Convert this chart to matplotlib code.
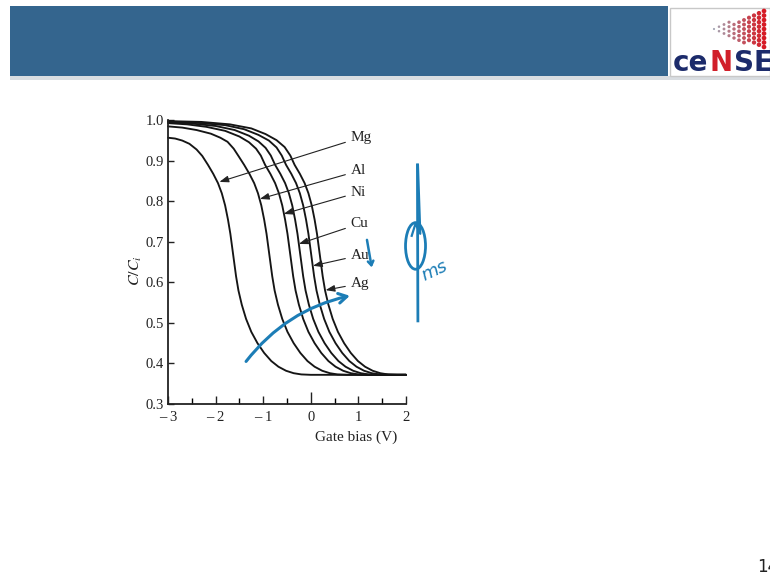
import matplotlib
matplotlib.use("Agg")
import matplotlib.pyplot as plt
from matplotlib.patches import Rectangle, Ellipse

plt.rcParams['font.family'] = ['Liberation Serif', 'DejaVu Serif']
plt.rcParams['mathtext.fontset'] = 'stix'

# ---------------- data ----------------
metals = ["Mg", "Al", "Ni", "Cu", "Au", "Ag"]

v_mg = [-3.0, -2.85, -2.7, -2.55, -2.4, -2.28, -2.16, -2.05, -1.95, -1.87, -1.80, -1.74, -1.69, -1.65, -1.61, -1.57, -1.52, -1.45, -1.36, -1.25, -1.12, -0.98, -0.83, -0.68, -0.52, -0.36, -0.2, 0.0, 2.0]
c_mg = [0.957, 0.955, 0.950, 0.942, 0.928, 0.912, 0.890, 0.868, 0.845, 0.820, 0.790, 0.755, 0.720, 0.685, 0.650, 0.615, 0.580, 0.545, 0.510, 0.478, 0.450, 0.426, 0.406, 0.392, 0.382, 0.376, 0.373, 0.372, 0.372]

v_al = [-3.0, -2.7, -2.4, -2.1, -1.9, -1.75, -1.62, -1.52, -1.40, -1.29, -1.19, -1.11, -1.04, -0.98, -0.93, -0.89, -0.85, -0.81, -0.76, -0.69, -0.60, -0.49, -0.36, -0.22, -0.07, 0.08, 0.24, 0.40, 0.56, 0.76, 2.0]
c_al = [0.985, 0.982, 0.976, 0.967, 0.957, 0.947, 0.930, 0.912, 0.890, 0.868, 0.845, 0.820, 0.790, 0.755, 0.720, 0.685, 0.650, 0.615, 0.580, 0.545, 0.510, 0.478, 0.450, 0.426, 0.406, 0.392, 0.382, 0.376, 0.373, 0.372, 0.372]

v_ni = [-3.0, -2.6, -2.2, -1.8, -1.5, -1.3, -1.15, -1.05, -0.96, -0.85, -0.75, -0.67, -0.60, -0.54, -0.49, -0.45, -0.41, -0.37, -0.32, -0.25, -0.16, -0.05, 0.08, 0.22, 0.37, 0.52, 0.68, 0.84, 1.0, 1.2, 2.0]
c_ni = [0.993, 0.990, 0.984, 0.974, 0.960, 0.946, 0.930, 0.913, 0.890, 0.868, 0.845, 0.820, 0.790, 0.755, 0.720, 0.685, 0.650, 0.615, 0.580, 0.545, 0.510, 0.478, 0.450, 0.426, 0.406, 0.392, 0.382, 0.376, 0.373, 0.372, 0.372]

v_cu = [-3.0, -2.5, -2.0, -1.6, -1.3, -1.1, -0.95, -0.84, -0.75, -0.64, -0.54, -0.46, -0.39, -0.33, -0.28, -0.24, -0.20, -0.16, -0.11, -0.04, 0.05, 0.16, 0.29, 0.43, 0.58, 0.73, 0.89, 1.05, 1.21, 1.41, 2.0]
c_cu = [0.995, 0.992, 0.986, 0.976, 0.962, 0.948, 0.932, 0.913, 0.890, 0.868, 0.845, 0.820, 0.790, 0.755, 0.720, 0.685, 0.650, 0.615, 0.580, 0.545, 0.510, 0.478, 0.450, 0.426, 0.406, 0.392, 0.382, 0.376, 0.373, 0.372, 0.372]

v_au = [-3.0, -2.4, -1.8, -1.4, -1.1, -0.88, -0.72, -0.61, -0.52, -0.41, -0.31, -0.23, -0.16, -0.10, -0.05, -0.01, 0.03, 0.07, 0.12, 0.19, 0.28, 0.39, 0.52, 0.66, 0.81, 0.96, 1.12, 1.28, 1.44, 1.64, 2.0]
c_au = [0.997, 0.994, 0.988, 0.978, 0.964, 0.950, 0.933, 0.913, 0.890, 0.868, 0.845, 0.820, 0.790, 0.755, 0.720, 0.685, 0.650, 0.615, 0.580, 0.545, 0.510, 0.478, 0.450, 0.426, 0.406, 0.392, 0.382, 0.376, 0.373, 0.372, 0.372]

v_ag = [-3.0, -2.3, -1.7, -1.25, -0.95, -0.72, -0.55, -0.43, -0.34, -0.23, -0.13, -0.05, 0.02, 0.08, 0.13, 0.17, 0.21, 0.25, 0.30, 0.37, 0.46, 0.57, 0.70, 0.84, 0.99, 1.14, 1.30, 1.46, 1.62, 1.82, 2.0]
c_ag = [0.998, 0.996, 0.990, 0.980, 0.966, 0.951, 0.934, 0.913, 0.890, 0.868, 0.845, 0.820, 0.790, 0.755, 0.720, 0.685, 0.650, 0.615, 0.580, 0.545, 0.510, 0.478, 0.450, 0.426, 0.406, 0.392, 0.382, 0.376, 0.373, 0.372, 0.372]

# label anchor (text position) and arrow tip on each curve
label_xy = [(0.84, 0.958), (0.84, 0.875), (0.84, 0.822), (0.84, 0.745), (0.84, 0.667), (0.84, 0.597)]
tip_xy = [(-1.92, 0.848), (-1.07, 0.806), (-0.57, 0.769), (-0.25, 0.695), (0.045, 0.641), (0.31, 0.581)]

x_ticks = [-3, -2, -1, 0, 1, 2]
x_ticklabels = ["\u2013 3", "\u2013 2", "\u2013 1", "0", "1", "2"]
y_ticks = [0.3, 0.4, 0.5, 0.6, 0.7, 0.8, 0.9, 1.0]
y_ticklabels = ["0.3", "0.4", "0.5", "0.6", "0.7", "0.8", "0.9", "1.0"]

curves = [(v_mg, c_mg), (v_al, c_al), (v_ni, c_ni), (v_cu, c_cu), (v_au, c_au), (v_ag, c_ag)]

# ---------------- figure ----------------
W, H = 770, 578
fig = plt.figure(figsize=(W / 100, H / 100), dpi=100)
fig.patch.set_facecolor("white")

def fx(px):
    return px / W

def fy(py):
    return 1 - py / H

# slide header
fig.patches.append(Rectangle((fx(10), fy(80)), fx(760), 4 / H, transform=fig.transFigure,
                             facecolor="#d9dde1", edgecolor="none"))
fig.patches.append(Rectangle((fx(10), fy(76)), fx(658), 70 / H, transform=fig.transFigure,
                             facecolor="#34658e", edgecolor="none"))
fig.patches.append(Rectangle((fx(670), fy(76)), fx(100), 68 / H, transform=fig.transFigure,
                             facecolor="white", edgecolor="#c8c8c8", linewidth=1))

# logo dots
dx, dy, cols, sizes = [], [], [], []
for i in range(11):
    x = 714 + i * 5
    for j in range(9):
        y = 11 + j * 4.5 + (2.2 if i % 2 else 0)
        w = (i + 1) / 11.0
        half = 3 + i * 1.6
        if abs(y - 30) > half or y > 50:
            continue
        dx.append(fx(x)); dy.append(fy(y))
        r = 0.62 + 0.22 * w
        g = 0.60 * (1 - w) + 0.10
        b = 0.62 * (1 - w) + 0.14
        cols.append((r, g, b)); sizes.append(1.5 + 10 * w)
dot_ax = fig.add_axes([0, 0, 1, 1], facecolor="none", zorder=5)
dot_ax.set_axis_off()
dot_ax.set_xlim(0, 1); dot_ax.set_ylim(0, 1)
dot_ax.scatter(dx, dy, s=sizes, c=cols, linewidths=0)

fig.text(fx(673), fy(71), "ce", fontsize=20, fontweight="bold", color="#1c2b6b",
         family="DejaVu Sans", ha="left", va="baseline", zorder=6)
fig.text(fx(710), fy(71), "N", fontsize=20, fontweight="bold", color="#d11f2a",
         family="DejaVu Sans", ha="left", va="baseline", zorder=6)
fig.text(fx(734), fy(71), "SE", fontsize=20, fontweight="bold", color="#1c2b6b",
         family="DejaVu Sans", ha="left", va="baseline", zorder=6)

fig.text(fx(757), fy(572), "14", fontsize=12, color="#222222", family="DejaVu Sans",
         ha="left", va="baseline")

# ---------------- chart ----------------
ax = fig.add_axes([fx(168), fy(404), 238 / W, (404 - 120.3) / H])
ax.set_facecolor("none")
for v, c in curves:
    ax.plot(v, c, color="#151515", linewidth=1.35, clip_on=False,
            solid_joinstyle="round", solid_capstyle="round")

ax.set_xlim(-3, 2)
ax.set_ylim(0.3, 1.0)
for s in ("top", "right"):
    ax.spines[s].set_visible(False)
for s in ("left", "bottom"):
    ax.spines[s].set_linewidth(1.3)
    ax.spines[s].set_color("#222222")

ax.set_xticks(x_ticks)
ax.set_xticklabels(x_ticklabels)
ax.set_xticks([-2.5, -1.5, -0.5, 0.5, 1.5], minor=True)
ax.set_yticks(y_ticks)
ax.set_yticklabels(y_ticklabels)
ax.tick_params(axis="x", which="major", direction="in", length=6, width=1.0, pad=5,
               labelsize=10.5, colors="#222222")
ax.tick_params(axis="x", which="minor", direction="in", length=4, width=1.0)
ax.tick_params(axis="y", which="major", direction="in", length=4, width=1.0, pad=3,
               labelsize=10.5, colors="#222222")
ax.xaxis.get_major_ticks()[3].tick1line.set_markersize(8.5)

ax.text(0.95, 0.219, "Gate bias (V)", fontsize=11, ha="center", va="center", color="#222222")
ax.text(-3.68, 0.628, r"$C/C_i$", fontsize=11.5, rotation=90, ha="center", va="center", color="#222222")

for name, (lx, ly), (tx, ty) in zip(metals, label_xy, tip_xy):
    ax.annotate(name, xy=(tx, ty), xytext=(lx, ly), fontsize=11, ha="left", va="center",
                color="#222222", annotation_clip=False,
                arrowprops=dict(arrowstyle="-|>,head_length=0.5,head_width=0.18",
                                color="#222222", linewidth=0.8, shrinkA=2, shrinkB=0))

# hand-drawn blue annotations
blue = "#1c7db6"
ax.annotate("", xy=(0.82, 0.567), xytext=(-1.36, 0.405), annotation_clip=False,
            arrowprops=dict(arrowstyle="->,head_length=0.6,head_width=0.35", color=blue,
                            linewidth=2.2, connectionstyle="arc3,rad=-0.18",
                            shrinkA=0, shrinkB=0))
ax.annotate("", xy=(1.28, 0.637), xytext=(1.18, 0.705), annotation_clip=False,
            arrowprops=dict(arrowstyle="->,head_length=0.3,head_width=0.2", color=blue,
                            linewidth=1.8, shrinkA=0, shrinkB=0))
ell = Ellipse((2.20, 0.690), 0.42, 0.115, fill=False, edgecolor=blue, linewidth=2.0, clip_on=False)
ax.add_patch(ell)
ax.plot([2.24, 2.25], [0.890, 0.505], color=blue, linewidth=2.0, clip_on=False)
ax.plot([2.12, 2.2, 2.3, 2.25], [0.715, 0.745, 0.72, 0.89], color=blue, linewidth=1.6, clip_on=False)
ax.text(2.6, 0.628, "ms", fontsize=13, color=blue, rotation=25, ha="center", va="center",
        style="italic", family="DejaVu Sans")

fig.savefig("out.png", dpi=100, facecolor="white")
